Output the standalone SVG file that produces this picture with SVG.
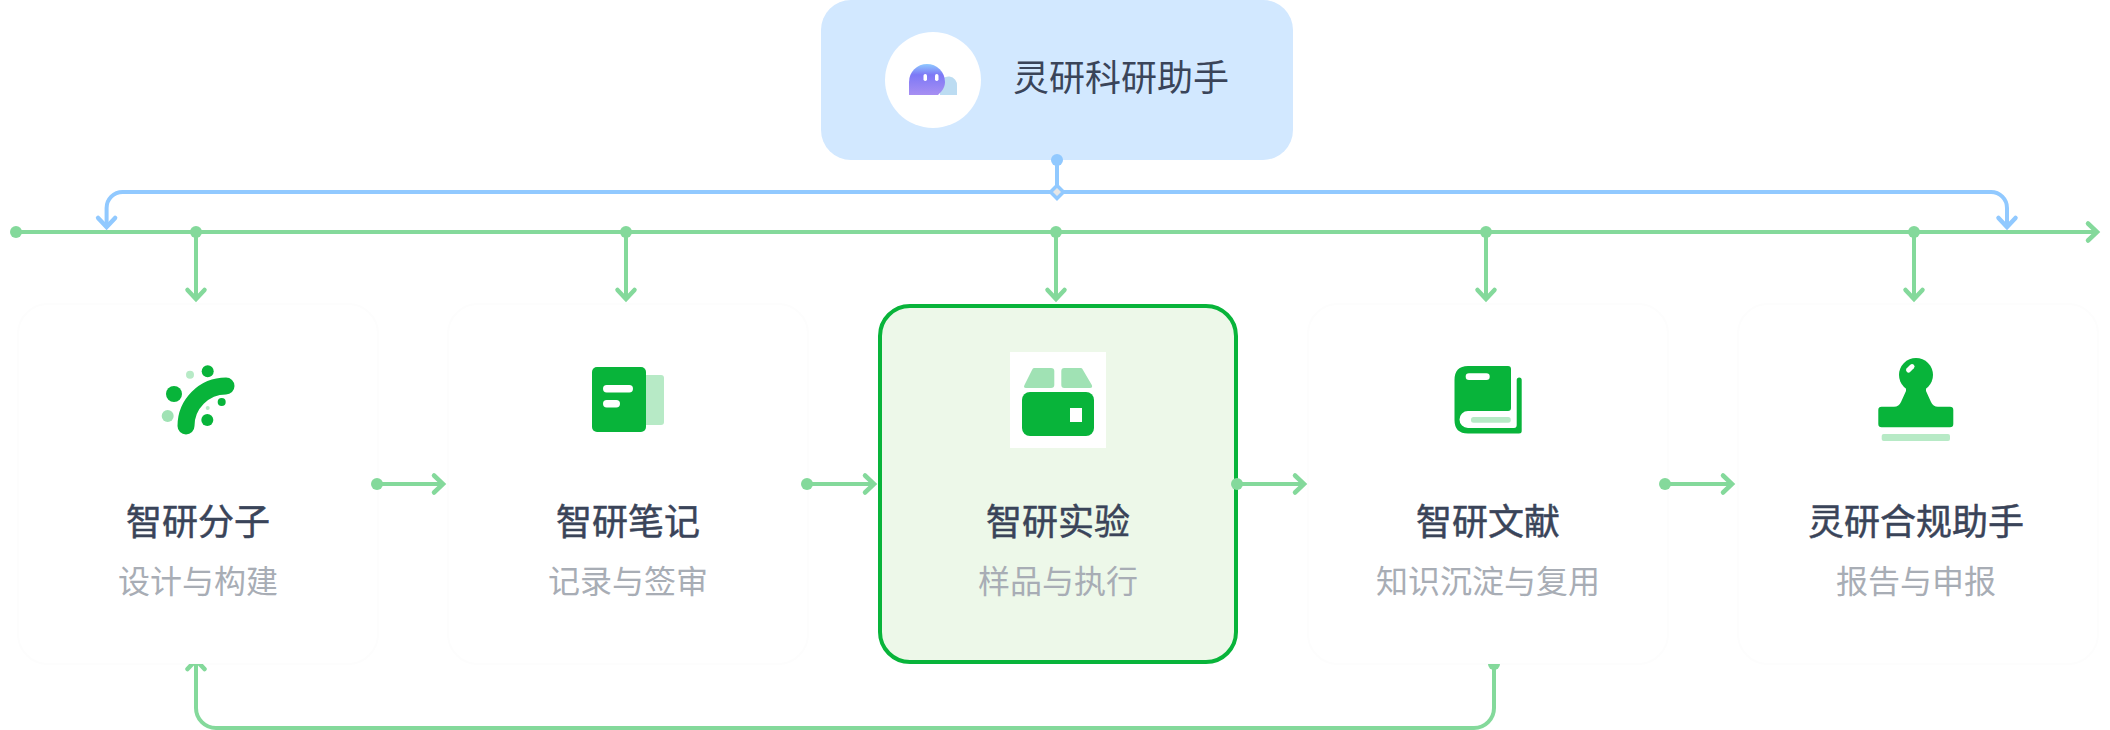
<svg xmlns="http://www.w3.org/2000/svg" width="2110" height="730" viewBox="0 0 2110 730">
<style>
.g{fill:#08b43a}.l{fill:#b7eac6}.m{fill:#a0e2b4}.w{fill:#fff}
.t{font-family:"Noto Sans CJK SC","Noto Sans",sans-serif;text-anchor:middle}
.title{font-size:36px;font-weight:400;fill:#3a4459;stroke:#3a4459;stroke-width:.5px}
.sub{font-size:32px;fill:#a8adb5}
.card{fill:#fff;stroke:#fdfdfd;stroke-width:2}
.cg{fill:none;stroke:#84d99b;stroke-width:4}
.cb{fill:none;stroke:#91c9ff;stroke-width:4}
</style>
<defs>
<marker id="ag" markerUnits="userSpaceOnUse" viewBox="-14 -12 18 24" refX="0" refY="0" markerWidth="18" markerHeight="24" orient="auto" overflow="visible"><path d="M-9-8.500L0 0L-9 8.500" fill="none" stroke="#84d99b" stroke-width="4.500" stroke-linecap="round" stroke-linejoin="miter"/></marker>
<marker id="ab" markerUnits="userSpaceOnUse" viewBox="-14 -12 18 24" refX="0" refY="0" markerWidth="18" markerHeight="24" orient="auto" overflow="visible"><path d="M-9-8.500L0 0L-9 8.500" fill="none" stroke="#91c9ff" stroke-width="4.500" stroke-linecap="round" stroke-linejoin="miter"/></marker>
<linearGradient id="bot" x1="0" y1="0" x2="0" y2="1"><stop offset="0" stop-color="#8fc9ff"/><stop offset=".35" stop-color="#7d78f6"/><stop offset="1" stop-color="#a78ff2"/></linearGradient>
<clipPath id="clipB"><rect x="0" y="664" width="2110" height="66"/></clipPath>
</defs>

<g id="node-assistant">
<rect x="821" y="0" width="472" height="160" rx="30" fill="#d2e8ff"/>
<circle cx="933" cy="80" r="48" fill="#fff"/>
<path d="M940 95V84A8.500 8.500 0 0 1 957 86V95Z" fill="#bcdcf2"/>
<path d="M909 95V82A18 18 0 0 1 945 82C945 88 941 92 938 95Z" fill="url(#bot)"/>
<rect x="923.500" y="74" width="3.500" height="7" rx="1.700" class="w"/>
<rect x="935" y="74" width="3.500" height="7" rx="1.700" class="w"/>
<text class="t" x="1121" y="91" font-size="36" fill="#3a4459">灵研科研助手</text>
</g>

<g id="node-molecule">
<rect class="card" x="18" y="304" width="360" height="360" rx="30"/>
<g class="g"><circle cx="207.700" cy="371.300" r="6"/><circle cx="174" cy="394" r="8"/><circle cx="221.700" cy="402" r="4"/><circle cx="207.300" cy="420" r="6"/></g>
<circle cx="190" cy="374.700" r="4" class="l"/><circle cx="207.700" cy="408" r="2" class="l"/><circle cx="167.700" cy="416" r="6" class="m"/>
<path d="M186 426C186 404 204 386 226 386" fill="none" stroke="#08b43a" stroke-width="17" stroke-linecap="round"/>
<text class="t title" x="198" y="535">智研分子</text>
<text class="t sub" x="198" y="593">设计与构建</text>
</g>

<g id="node-notes">
<rect class="card" x="448" y="304" width="360" height="360" rx="30"/>
<rect x="640" y="375" width="24" height="50" rx="3" class="l"/>
<rect x="592" y="367" width="54" height="65" rx="5" class="g"/>
<rect x="603" y="385" width="30" height="7.500" rx="3.700" class="w"/>
<rect x="603" y="400" width="17" height="7.500" rx="3.700" class="w"/>
<text class="t title" x="628" y="535">智研笔记</text>
<text class="t sub" x="628" y="593">记录与签审</text>
</g>

<g id="node-experiment">
<rect x="880" y="306" width="356" height="356" rx="30" fill="#edf8e9" stroke="#08b43a" stroke-width="4"/>
<rect x="1010" y="352" width="96" height="96" class="w"/>
<path d="M1034 368H1051Q1054.300 368 1054.300 371V385Q1054.300 388 1051 388H1026Q1023 388 1024.500 385L1032 370Q1032.800 368 1034 368Z" class="m"/>
<path d="M1081 368H1064.300Q1061.300 368 1061.300 371V385Q1061.300 388 1064.300 388H1090Q1093 388 1091.800 385L1083 370Q1082.200 368 1081 368Z" class="m"/>
<rect x="1022" y="392" width="72" height="44" rx="8" class="g"/>
<rect x="1070" y="408" width="12" height="14" class="w"/>
<text class="t title" x="1058" y="535">智研实验</text>
<text class="t sub" x="1058" y="593">样品与执行</text>
</g>

<g id="node-literature">
<rect class="card" x="1308" y="304" width="360" height="360" rx="30"/>
<path d="M1468 366H1508Q1511 366 1511 369V408Q1511 411 1508 411H1468A8.500 8.500 0 0 0 1468 428H1514Q1516.700 428 1516.700 425V380A2.500 2.500 0 0 1 1521.700 380V431Q1521.700 433.500 1519 433.500H1468Q1454.500 433.500 1454.500 420V380Q1454.500 366 1468 366Z" class="g"/>
<rect x="1465.700" y="373.300" width="24" height="6.700" rx="3.300" class="w"/>
<rect x="1471" y="417" width="39.700" height="5.700" rx="2.500" class="l"/>
<text class="t title" x="1488" y="535">智研文献</text>
<text class="t sub" x="1488" y="593">知识沉淀与复用</text>
</g>

<g id="node-compliance">
<rect class="card" x="1738" y="304" width="360" height="360" rx="30"/>
<circle cx="1916" cy="375" r="17" class="g"/>
<path d="M1906 388H1926V391L1931 402Q1933 406.700 1938 406.700H1950Q1953.300 406.700 1953.300 410V424Q1953.300 427.300 1950 427.300H1881.600Q1878.300 427.300 1878.300 424V410Q1878.300 406.700 1881.600 406.700H1894Q1899 406.700 1901 402L1906 391Z" class="g"/>
<rect x="1905.300" y="365.800" width="10" height="5" rx="2.500" class="w" transform="rotate(-45 1910.300 368.300)"/>
<rect x="1881.700" y="434" width="68.300" height="7" rx="2" class="l"/>
<text class="t title" x="1916" y="535">灵研合规助手</text>
<text class="t sub" x="1916" y="593">报告与申报</text>
</g>

<g id="connectors">
<path class="cg" d="M16 232H2097" marker-end="url(#ag)"/>
<circle cx="16" cy="232" r="6" fill="#84d99b"/>
<path class="cb" d="M1057 160V192"/>
<circle cx="1057" cy="160" r="6" fill="#91c9ff"/>
<path class="cb" d="M1057 192H122.600A16 16 0 0 0 106.600 208V227" marker-end="url(#ab)"/>
<path class="cb" d="M1057 192H1991A16 16 0 0 1 2007 208V227" marker-end="url(#ab)"/>
<path d="M1057 185.500L1063.500 192L1057 198.500L1050.500 192Z" fill="#e6e6e6" stroke="#91c9ff" stroke-width="3.500"/>
<g fill="#84d99b">
<circle cx="196" cy="232" r="6"/><circle cx="626" cy="232" r="6"/><circle cx="1056" cy="232" r="6"/><circle cx="1486" cy="232" r="6"/><circle cx="1914" cy="232" r="6"/>
<circle cx="377" cy="484" r="6"/><circle cx="807" cy="484" r="6"/><circle cx="1237" cy="484" r="6"/><circle cx="1665" cy="484" r="6"/>
</g>
<path class="cg" d="M196 232V299" marker-end="url(#ag)"/>
<path class="cg" d="M626 232V299" marker-end="url(#ag)"/>
<path class="cg" d="M1056 232V299" marker-end="url(#ag)"/>
<path class="cg" d="M1486 232V299" marker-end="url(#ag)"/>
<path class="cg" d="M1914 232V299" marker-end="url(#ag)"/>
<path class="cg" d="M377 484H443" marker-end="url(#ag)"/>
<path class="cg" d="M807 484H874" marker-end="url(#ag)"/>
<path class="cg" d="M1237 484H1304" marker-end="url(#ag)"/>
<path class="cg" d="M1665 484H1732" marker-end="url(#ag)"/>
<g clip-path="url(#clipB)">
<path class="cg" d="M1494 664V708A20 20 0 0 1 1474 728H216A20 20 0 0 1 196 708V660" marker-end="url(#ag)"/>
<circle cx="1494" cy="664" r="6" fill="#84d99b"/>
</g>
</g>
</svg>
